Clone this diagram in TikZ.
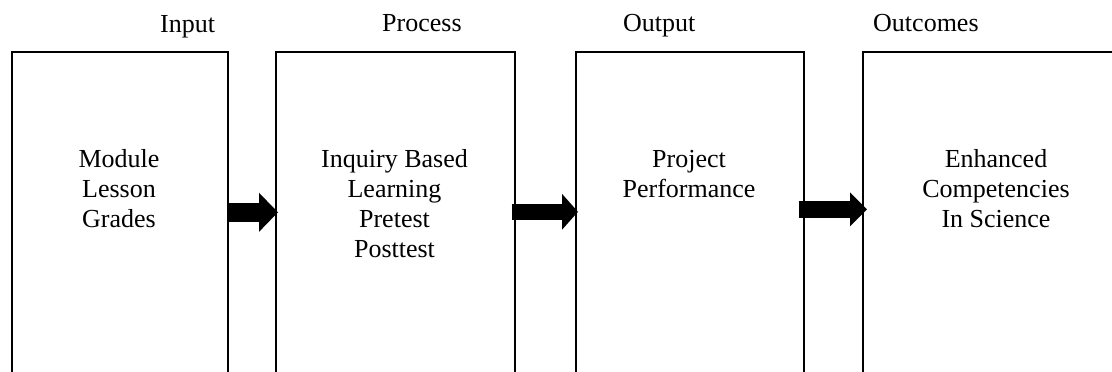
\documentclass[tikz,border=0pt]{standalone}
\usepackage{fontspec}
\setmainfont{Liberation Serif}
\usetikzlibrary{arrows.meta}
\tikzset{
  box/.style={draw=black, line width=1.6pt, minimum height=322pt, inner sep=0pt, anchor=north west},
  boxtext/.style={align=center, anchor=base, inner sep=0pt, font=\fontsize{26}{30.3}\selectfont},
  title/.style={anchor=base west, inner sep=0pt, font=\fontsize{26}{30.3}\selectfont},
  bigarrow/.style={line width=#1, line cap=butt}
}
\begin{document}
\begin{tikzpicture}[x=1pt,y=-1pt]
\useasboundingbox (0,0) rectangle (1112,372);
\clip (0,0) rectangle (1112,372);
% boxes
\node[box, minimum width=216pt] (b1) at (11,51) {};
\node[box, minimum width=239pt] (b2) at (275,51) {};
\node[box, minimum width=228pt] (b3) at (575,51) {};
\node[box, minimum width=268pt] (b4) at (862,51) {};
% titles
\node[title] (t1) at (160,32) {Input};
\node[title] (t2) at (382,31) {Process};
\node[title] (t3) at (623,31) {Output};
\node[title] (t4) at (873,31) {Outcomes};
% box texts (base anchor = baseline of last line)
\node[boxtext] (x1) at (119,227.6) {Module\\Lesson\\Grades};
\node[boxtext] (x2) at (394.5,257.9) {Inquiry Based\\Learning\\Pretest\\Posttest};
\node[boxtext] (x3) at (689,197.3) {Project\\Performance};
\node[boxtext] (x4) at (996,227.6) {Enhanced\\Competencies\\In Science};
% arrows
\draw[bigarrow=19pt, -{Triangle[length=19pt,width=38pt]}]
  ([xshift=-1pt,yshift=0.5pt]b1.east) -- ([xshift=3pt,yshift=0.5pt]b2.west);
\draw[bigarrow=16pt, -{Triangle[length=16pt,width=35pt]}]
  ([xshift=-4pt,yshift=1pt]b2.east) -- ([xshift=3pt,yshift=1pt]b3.west);
\draw[bigarrow=17pt, -{Triangle[length=17pt,width=33pt]}]
  ([xshift=-6pt,yshift=3.5pt]b3.east) -- ([xshift=5pt,yshift=3.5pt]b4.west);
\end{tikzpicture}
\end{document}
